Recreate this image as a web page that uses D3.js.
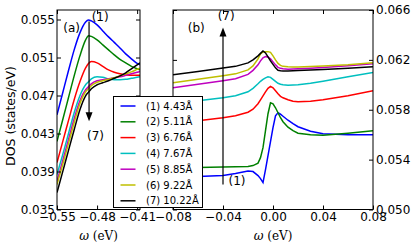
<!DOCTYPE html>
<html>
<head>
<meta charset="utf-8">
<script src="https://cdn.jsdelivr.net/npm/d3@7"></script>
<style>
  body { margin: 0; background: #fff; }
  text { font-family: "DejaVu Sans", sans-serif; }
</style>
</head>
<body>
<svg id="chart" width="416" height="246"></svg>
<script>
// spacings (legend) and colours
const spacings = ["4.43", "5.11", "6.76", "7.67", "8.85", "9.22", "10.22"];
const colors = ["#0000ff", "#008000", "#ff0000", "#00bfbf", "#bf00bf", "#bfbf00", "#000000"];

// panel (a): omega grid and DOS per spacing
const omegaA = [-0.55, -0.54, -0.53, -0.52, -0.51, -0.50, -0.495, -0.49, -0.48, -0.47, -0.46, -0.45, -0.44, -0.43, -0.42, -0.41, -0.405];
const a443  = [0.04498, 0.04729, 0.0496, 0.0518, 0.05359, 0.05474, 0.05495, 0.05485, 0.05443, 0.0538, 0.05317, 0.05259, 0.05201, 0.05138, 0.05086, 0.05038, 0.05023];
const a511  = [0.04217, 0.04445, 0.04676, 0.04907, 0.05117, 0.05285, 0.0533, 0.05322, 0.05285, 0.05233, 0.0518, 0.05128, 0.0508, 0.05044, 0.05007, 0.04981, 0.0497];
const a676  = [0.03994, 0.04214, 0.04435, 0.04655, 0.04844, 0.04991, 0.05038, 0.05057, 0.05044, 0.05007, 0.0497, 0.04944, 0.04928, 0.04918, 0.04912, 0.04912, 0.04912];
const a767  = [0.03868, 0.04078, 0.04298, 0.04519, 0.04697, 0.04813, 0.04844, 0.04876, 0.04897, 0.04891, 0.04876, 0.04865, 0.04865, 0.0487, 0.04881, 0.04891, 0.04897];
const a885  = [0.03797, 0.04015, 0.04235, 0.04456, 0.04645, 0.0476, 0.04792, 0.04823, 0.04855, 0.04866, 0.04876, 0.04886, 0.04897, 0.04912, 0.04928, 0.04944, 0.04952];
const a922  = [0.03763, 0.03973, 0.04193, 0.04414, 0.04613, 0.04739, 0.0477, 0.04802, 0.04839, 0.04855, 0.0487, 0.04886, 0.04907, 0.04928, 0.04949, 0.04975, 0.04988];
const a1022 = [0.03679, 0.03899, 0.0412, 0.0434, 0.0455, 0.04697, 0.04734, 0.04771, 0.04813, 0.04834, 0.04855, 0.04881, 0.04907, 0.04939, 0.04981, 0.05023, 0.05044];

// panel (b): omega grid and DOS per spacing
const omegaB = [-0.08, -0.06, -0.04, -0.03, -0.02, -0.016, -0.012, -0.01, -0.008, -0.006, -0.004, -0.002, 0, 0.002, 0.004, 0.006, 0.008, 0.012, 0.016, 0.02, 0.03, 0.04, 0.06, 0.08];
const b443  = [0.05252, 0.05264, 0.05272, 0.05288, 0.05308, 0.05304, 0.05272, 0.05248, 0.05216, 0.0532, 0.05432, 0.05544, 0.05656, 0.05752, 0.05776, 0.05764, 0.05748, 0.05716, 0.05688, 0.05664, 0.05628, 0.05608, 0.056, 0.056];
const b511  = [0.05328, 0.05336, 0.0534, 0.05342, 0.05344, 0.05352, 0.05372, 0.05416, 0.05496, 0.05632, 0.05768, 0.05856, 0.05848, 0.05816, 0.05776, 0.05736, 0.05704, 0.0566, 0.05632, 0.05612, 0.056, 0.05596, 0.05612, 0.05632];
const b676  = [0.05692, 0.05712, 0.05736, 0.05752, 0.0578, 0.05804, 0.05848, 0.0588, 0.05912, 0.05944, 0.05972, 0.05988, 0.05976, 0.05952, 0.05928, 0.05908, 0.05896, 0.0588, 0.05868, 0.05864, 0.05868, 0.0588, 0.05912, 0.05952];
const b767  = [0.05852, 0.05872, 0.05896, 0.05912, 0.05944, 0.05972, 0.06008, 0.06028, 0.06044, 0.06056, 0.06064, 0.0606, 0.06044, 0.06028, 0.06012, 0.06004, 0.06, 0.05996, 0.05998, 0.06, 0.06012, 0.06028, 0.06064, 0.06098];
const b885  = [0.05976, 0.06004, 0.06032, 0.06048, 0.06084, 0.06116, 0.0616, 0.06192, 0.06216, 0.06226, 0.06224, 0.06208, 0.06184, 0.0616, 0.0614, 0.06132, 0.06128, 0.06124, 0.06126, 0.06128, 0.06132, 0.06138, 0.06152, 0.06168];
const b922  = [0.06016, 0.06044, 0.06072, 0.06088, 0.0612, 0.06152, 0.06208, 0.06248, 0.06264, 0.06266, 0.06266, 0.0626, 0.06232, 0.062, 0.06172, 0.06156, 0.06148, 0.06144, 0.06142, 0.06142, 0.06146, 0.0615, 0.0616, 0.06176];
const b1022 = [0.0608, 0.06106, 0.06134, 0.06148, 0.06176, 0.062, 0.06232, 0.06252, 0.06272, 0.06256, 0.06224, 0.06192, 0.06164, 0.06136, 0.06116, 0.06112, 0.0611, 0.0611, 0.06112, 0.06114, 0.06118, 0.06122, 0.06132, 0.06144];

// ticks
const ticksXA = [-0.55, -0.48, -0.41];
const ticksYA = [0.035, 0.039, 0.043, 0.047, 0.051, 0.055];
const ticksXB = [-0.08, -0.04, 0.00, 0.04, 0.08];
const ticksYB = [0.050, 0.054, 0.058, 0.062, 0.066];

// arrows: [omega, DOS start, DOS tip]
const arrowA = [-0.494, 0.0548, 0.0443];
const arrowB = [-0.04, 0.0520, 0.0646];

const svg = d3.select('#chart');
svg.append('rect').attr('width', 416).attr('height', 246).attr('fill', '#fff');

const xA = d3.scaleLinear([-0.55, -0.405], [57, 140]);
const yA = d3.scaleLinear([0.035, 0.056], [209.5, 10]);
const xB = d3.scaleLinear([-0.08, 0.08], [173, 373]);
const yB = d3.scaleLinear([0.050, 0.066], [209.5, 10]);

drawPanel('a', xA, yA, omegaA, [a443, a511, a676, a767, a885, a922, a1022],
          ticksXA, ticksYA, false, d3.curveMonotoneX);
drawPanel('b', xB, yB, omegaB, [b443, b511, b676, b767, b885, b922, b1022],
          ticksXB, ticksYB, true, d3.curveLinear);

function drawPanel (id, x, y, xs, series, xt, yt, yRight, curve) {
    const g = svg.append('g');
    const [l, r] = x.range();
    const [b, t] = y.range();

    g.append('clipPath').attr('id', 'clip' + id)
        .append('rect').attr('x', l).attr('y', t).attr('width', r - l).attr('height', b - t);

    const line = d3.line().curve(curve).x((d, i) => x(xs[i])).y(d => y(d));
    g.append('g').attr('clip-path', `url(#clip${id})`)
        .selectAll('path').data(series).join('path')
        .attr('d', line)
        .attr('fill', 'none')
        .attr('stroke', (d, i) => colors[i])
        .attr('stroke-width', 1.5);

    const fx = d3.format('.2f'), fy = d3.format('.3f');
    const style = sel => {
        sel.select('.domain').remove();
        sel.attr('font-family', null).attr('font-size', null);
        sel.selectAll('text').style('font-size', '12px').attr('fill', '#000');
        sel.selectAll('line').attr('stroke', '#000');
    };

    g.append('g').attr('transform', `translate(0,${b})`)
        .call(d3.axisBottom(x).tickValues(xt).tickFormat(fx).tickSizeInner(-4).tickSizeOuter(0).tickPadding(3))
        .call(style);
    g.append('g').attr('transform', `translate(0,${t})`)
        .call(d3.axisTop(x).tickValues(xt).tickFormat('').tickSizeInner(-4).tickSizeOuter(0))
        .call(style);
    g.append('g').attr('transform', `translate(${l},0)`)
        .call(d3.axisLeft(y).tickValues(yt).tickFormat(yRight ? '' : fy).tickSizeInner(-4).tickSizeOuter(0).tickPadding(2))
        .call(style);
    g.append('g').attr('transform', `translate(${r},0)`)
        .call(d3.axisRight(y).tickValues(yt).tickFormat(yRight ? fy : '').tickSizeInner(-4).tickSizeOuter(0).tickPadding(3))
        .call(style);

    g.append('rect')
        .attr('x', l).attr('y', t).attr('width', r - l).attr('height', b - t)
        .attr('fill', 'none').attr('stroke', '#000').attr('stroke-width', 1);

    // omega label
    const lab = g.append('text')
        .attr('x', (l + r) / 2).attr('y', 240)
        .attr('text-anchor', 'middle')
        .style('font-family', '"DejaVu Serif", serif')
        .style('font-size', '12px');
    lab.append('tspan').style('font-style', 'italic').text('ω');
    lab.append('tspan').text(' (eV)');
}

// arrows and annotations
function arrow (x, y, a) {
    const ax = x(a[0]), y0 = y(a[1]), tip = y(a[2]);
    const dir = tip > y0 ? 1 : -1;
    svg.append('line')
        .attr('x1', ax).attr('x2', ax)
        .attr('y1', y0).attr('y2', tip - dir * 6)
        .attr('stroke', '#000').attr('stroke-width', 1.2);
    svg.append('path')
        .attr('d', `M${ax},${tip}L${ax - 3.5},${tip - dir * 9}L${ax + 3.5},${tip - dir * 9}Z`)
        .attr('fill', '#000');
}
arrow(xA, yA, arrowA);
arrow(xB, yB, arrowB);

const note = (px, py, s) => svg.append('text')
    .attr('x', px).attr('y', py).attr('dy', '0.35em')
    .style('font-size', '12px').text(s);
note(xA(-0.539), yA(0.0541), '(a)');
note(xA(-0.4895), yA(0.0553), '(1)');
note(xA(-0.4975), yA(0.0428), '(7)');
note(xB(-0.0682), yB(0.0646), '(b)');
note(xB(-0.0443), yB(0.0655), '(7)');
note(xB(-0.0356), yB(0.0523), '(1)');

// y label
svg.append('text')
    .attr('transform', 'translate(15,116) rotate(-90)')
    .attr('text-anchor', 'middle')
    .style('font-size', '12.5px')
    .text('DOS (states/eV)');

// legend
const leg = svg.append('g').attr('transform', 'translate(113.5,96.5)');
leg.append('rect').attr('width', 89).attr('height', 111)
    .attr('fill', '#fff').attr('stroke', '#000').attr('stroke-width', 1);
const rows = leg.selectAll('g.row').data(spacings).join('g')
    .attr('transform', (d, i) => `translate(0,${9.5 + i * 15.8})`);
rows.append('line').attr('x1', 7).attr('x2', 22)
    .attr('stroke', (d, i) => colors[i]).attr('stroke-width', 1.5);
rows.append('text').attr('x', 32.5).attr('dy', '0.35em')
    .style('font-size', '10px')
    .text((d, i) => `(${i + 1}) ${d}Å`);
</script>
</body>
</html>
